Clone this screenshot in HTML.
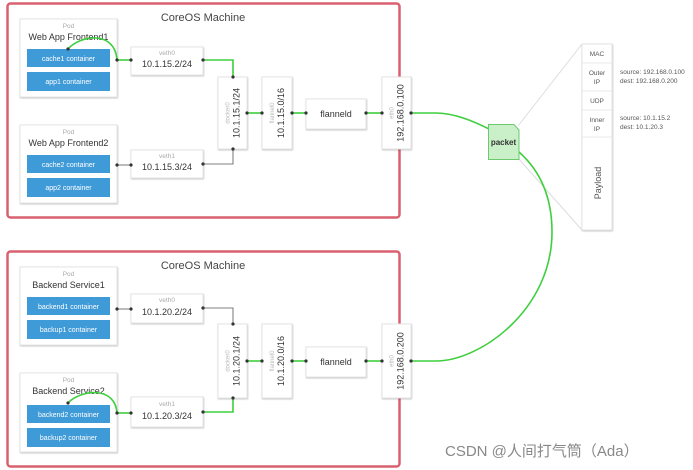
<!DOCTYPE html>
<html><head><meta charset="utf-8"><style>
body{margin:0;background:#fff}
svg{display:block}
text{font-family:"Liberation Sans","Noto Sans CJK SC",sans-serif}
</style></head><body>
<svg width="693" height="470" viewBox="0 0 693 470" xmlns="http://www.w3.org/2000/svg">
<defs>
<filter id="sh" x="-10%" y="-10%" width="130%" height="130%"><feDropShadow dx="0.5" dy="0.8" stdDeviation="0.8" flood-color="#000" flood-opacity="0.25"/></filter>
</defs>
<!-- machines -->
<rect x="7.5" y="3.5" width="392" height="214" rx="3" fill="none" stroke="#d9606e" stroke-width="2.5"/>
<rect x="7.5" y="251.5" width="392" height="215" rx="3" fill="none" stroke="#d9606e" stroke-width="2.5"/>
<text x="203" y="21" font-size="11" fill="#444" text-anchor="middle">CoreOS Machine</text>
<text x="203" y="269" font-size="11" fill="#444" text-anchor="middle">CoreOS Machine</text>

<!-- gray packet lines -->
<line x1="518" y1="126" x2="582" y2="44" stroke="#ddd" stroke-width="1"/>
<line x1="518" y1="158" x2="582" y2="230" stroke="#ddd" stroke-width="1"/>

<g id="m">
</g>
<!-- TOP -->
<g filter="url(#sh)" fill="#fff" stroke="#e4e4e4">
<rect x="20" y="19" width="97" height="78"/>
<rect x="20" y="125" width="97" height="78"/>
<rect x="131" y="47" width="72" height="28"/>
<rect x="131" y="150" width="72" height="28"/>
<rect x="218" y="77" width="29" height="72"/>
<rect x="262" y="77" width="30" height="72"/>
<rect x="306" y="99" width="60" height="30"/>
<rect x="382" y="77" width="29" height="72"/>
<!-- bottom -->
<rect x="20" y="267" width="97" height="78"/>
<rect x="20" y="373" width="97" height="79"/>
<rect x="131" y="294" width="72" height="29"/>
<rect x="131" y="397" width="72" height="30"/>
<rect x="218" y="324" width="29" height="74"/>
<rect x="262" y="324" width="30" height="74"/>
<rect x="306" y="347" width="60" height="30"/>
<rect x="382" y="324" width="29" height="74"/>
<!-- header table -->
<rect x="582" y="44" width="30" height="186"/>
</g>
<g stroke="#e8e8e8"><line x1="582" y1="63" x2="612" y2="63"/><line x1="582" y1="91" x2="612" y2="91"/><line x1="582" y1="110" x2="612" y2="110"/><line x1="582" y1="137" x2="612" y2="137"/></g>
<g fill="#3f9ad8">
<rect x="27" y="49" width="83" height="18"/><rect x="27" y="72" width="83" height="19"/>
<rect x="27" y="155" width="83" height="18"/><rect x="27" y="178" width="83" height="19"/>
<rect x="27" y="297" width="83" height="18"/><rect x="27" y="320" width="83" height="19"/>
<rect x="27" y="405" width="83" height="18"/><rect x="27" y="428" width="83" height="19"/>
</g>
<g font-size="7" fill="#fff" text-anchor="middle">
<text x="68.5" y="61">cache1 container</text><text x="68.5" y="84">app1 container</text>
<text x="68.5" y="167">cache2 container</text><text x="68.5" y="190">app2 container</text>
<text x="68.5" y="309">backend1 container</text><text x="68.5" y="332">backup1 container</text>
<text x="68.5" y="417">backend2 container</text><text x="68.5" y="440">backup2 container</text>
</g>
<g font-size="6.5" fill="#aaa" text-anchor="middle">
<text x="68.5" y="28">Pod</text><text x="68.5" y="134">Pod</text><text x="68.5" y="276">Pod</text><text x="68.5" y="382">Pod</text>
<text x="167" y="55">veth0</text><text x="167" y="158">veth1</text><text x="167" y="302">veth0</text><text x="167" y="406">veth1</text>
</g>
<g font-size="9" fill="#333" text-anchor="middle">
<text x="68.5" y="40">Web App Frontend1</text><text x="68.5" y="146">Web App Frontend2</text>
<text x="68.5" y="288">Backend Service1</text><text x="68.5" y="394">Backend Service2</text>
<text x="167" y="67">10.1.15.2/24</text><text x="167" y="170">10.1.15.3/24</text>
<text x="167" y="315">10.1.20.2/24</text><text x="167" y="419">10.1.20.3/24</text>
<text x="336" y="117">flanneld</text><text x="336" y="365">flanneld</text>
</g>
<!-- rotated labels -->
<g text-anchor="middle">
<g transform="translate(232.5,113) rotate(-90)"><text x="0" y="-3" font-size="6" fill="#bbb">docker0</text><text x="0" y="7" font-size="9" fill="#333">10.1.15.1/24</text></g>
<g transform="translate(277,113) rotate(-90)"><text x="0" y="-3" font-size="6" fill="#bbb">flannel0</text><text x="0" y="7" font-size="9" fill="#333">10.1.15.0/16</text></g>
<g transform="translate(396.5,113) rotate(-90)"><text x="0" y="-3" font-size="6" fill="#bbb">eth0</text><text x="0" y="7" font-size="9" fill="#333">192.168.0.100</text></g>
<g transform="translate(232.5,361) rotate(-90)"><text x="0" y="-3" font-size="6" fill="#bbb">docker0</text><text x="0" y="7" font-size="9" fill="#333">10.1.20.1/24</text></g>
<g transform="translate(277,361) rotate(-90)"><text x="0" y="-3" font-size="6" fill="#bbb">flannel0</text><text x="0" y="7" font-size="9" fill="#333">10.1.20.0/16</text></g>
<g transform="translate(396.5,361) rotate(-90)"><text x="0" y="-3" font-size="6" fill="#bbb">eth0</text><text x="0" y="7" font-size="9" fill="#333">192.168.0.200</text></g>
<g transform="translate(597,183) rotate(-90)"><text x="0" y="4" font-size="9" fill="#555">Payload</text></g>
</g>
<!-- header text -->
<g font-size="6.5" fill="#555" text-anchor="middle">
<text x="597" y="56">MAC</text><text x="597" y="75">Outer</text><text x="597" y="84">IP</text>
<text x="597" y="103">UDP</text><text x="597" y="122">Inner</text><text x="597" y="131">IP</text>
</g>
<g font-size="6.5" fill="#555">
<text x="620" y="74">source: 192.168.0.100</text><text x="620" y="83">dest: 192.168.0.200</text>
<text x="620" y="120">source: 10.1.15.2</text><text x="620" y="129">dest: 10.1.20.3</text>
</g>
<!-- gray connectors -->
<g stroke="#555" stroke-width="0.8" fill="none">
<path d="M117 165 H131"/><path d="M203 164 H233 V149"/>
<path d="M117 309 H131"/><path d="M203 308 H233 V324"/>
</g>
<!-- green connectors -->
<g stroke="#3ecf3e" stroke-width="1.6" fill="none">
<path d="M68 49 C 80 35, 115 30, 117 60"/><path d="M117 60 H131"/><path d="M203 60 H233 V77"/>
<path d="M247 113 H262"/><path d="M292 113 H306"/><path d="M366 113 H382"/>
<path d="M68 403 C 80 390, 115 385, 117 413"/><path d="M117 413 H131"/><path d="M203 412 H233 V398"/>
<path d="M247 361 H262"/><path d="M292 361 H306"/><path d="M366 361 H382"/>
<path d="M411 113 H436 C 455 113, 475 122, 489 129"/>
<path d="M519 152 C 545 175, 552 205, 552 232 C 552 310, 480 361, 436 361 H411"/>
</g>
<!-- dots -->
<g fill="#333">
<circle cx="68" cy="49" r="1.6"/><circle cx="117" cy="60" r="1.6"/><circle cx="131" cy="60" r="1.6"/><circle cx="203" cy="60" r="1.6"/><circle cx="233" cy="77" r="1.6"/>
<circle cx="117" cy="165" r="1.6"/><circle cx="131" cy="165" r="1.6"/><circle cx="203" cy="164" r="1.6"/><circle cx="233" cy="149" r="1.6"/>
<circle cx="247" cy="113" r="1.6"/><circle cx="262" cy="113" r="1.6"/><circle cx="292" cy="113" r="1.6"/><circle cx="306" cy="113" r="1.6"/><circle cx="366" cy="113" r="1.6"/><circle cx="382" cy="113" r="1.6"/><circle cx="411" cy="113" r="1.6"/>
<circle cx="117" cy="309" r="1.6"/><circle cx="131" cy="309" r="1.6"/><circle cx="203" cy="308" r="1.6"/><circle cx="233" cy="324" r="1.6"/>
<circle cx="68" cy="403" r="1.6"/><circle cx="117" cy="413" r="1.6"/><circle cx="131" cy="413" r="1.6"/><circle cx="203" cy="412" r="1.6"/><circle cx="233" cy="398" r="1.6"/>
<circle cx="247" cy="361" r="1.6"/><circle cx="262" cy="361" r="1.6"/><circle cx="292" cy="361" r="1.6"/><circle cx="306" cy="361" r="1.6"/><circle cx="366" cy="361" r="1.6"/><circle cx="382" cy="361" r="1.6"/><circle cx="411" cy="361" r="1.6"/>
</g>
<!-- packet -->
<path d="M488.5 124.5 H514 L519 130 V159.5 H488.5 Z" fill="#c9f0c9" stroke="#6cc96c"/>
<text x="503.5" y="145" font-size="8" font-weight="bold" fill="#333" text-anchor="middle">packet</text>
<!-- watermark -->
<text x="445" y="456" font-size="15" fill="#888">CSDN @人间打气筒（Ada）</text>
</svg>
</body></html>
